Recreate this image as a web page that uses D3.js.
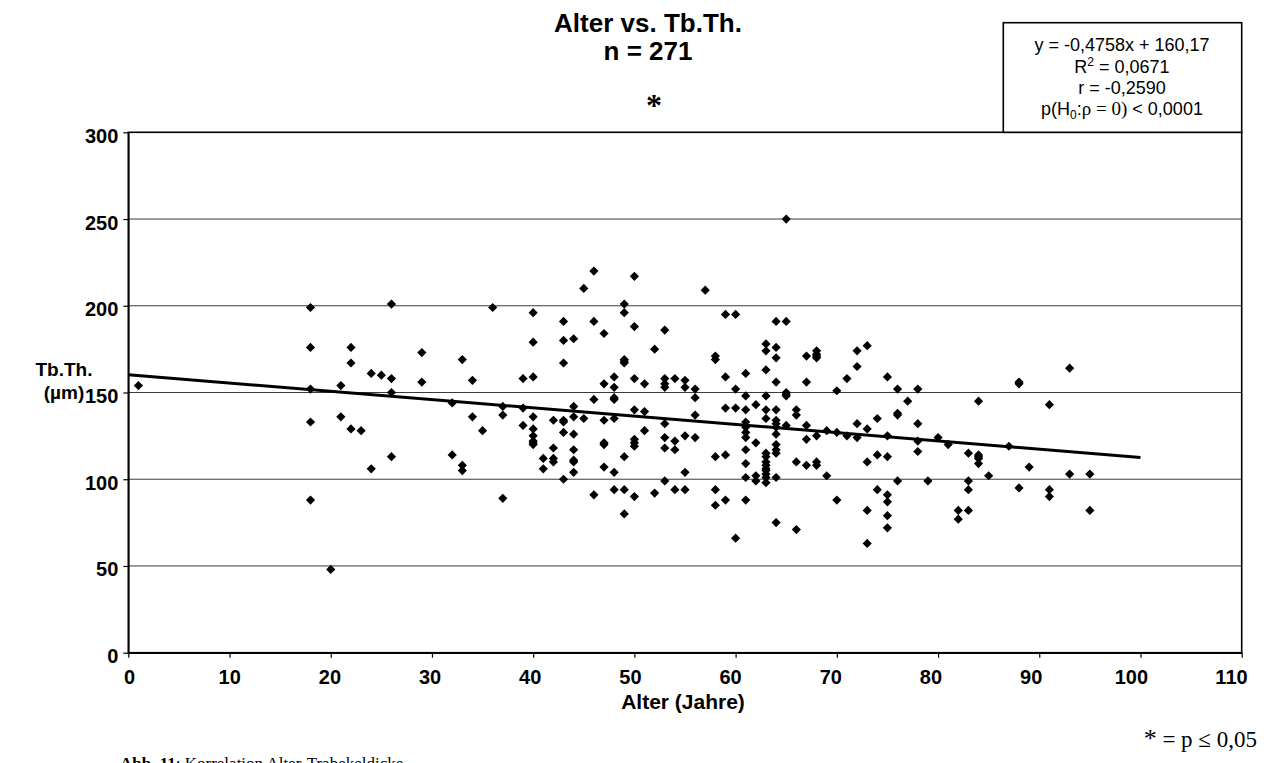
<!DOCTYPE html>
<html>
<head>
<meta charset="utf-8">
<script src="https://cdn.jsdelivr.net/npm/d3@7"></script>
<style>
  html, body { margin: 0; padding: 0; background: #fff; }
  svg { display: block; }
  .sans { font-family: "Liberation Sans", Arial, sans-serif; }
  .serif { font-family: "Liberation Serif", "Times New Roman", serif; }
</style>
</head>
<body>
<svg id="chart" width="1264" height="763"></svg>
<script>
// Age (years) of each sample group and the trabecular thickness values (µm) measured at that age
const ages = [1, 18, 20, 21, 22, 23, 24, 25, 26, 29, 32, 33, 34, 35, 36, 37, 39, 40, 41, 42,
  43, 44, 45, 46, 47, 48, 49, 50, 51, 52, 53, 54, 55, 56, 57, 58, 59, 60, 61, 62,
  63, 64, 65, 66, 67, 68, 69, 70, 71, 72, 73, 74, 75, 76, 77, 78, 79, 80, 81, 82,
  83, 84, 85, 87, 88, 89, 91, 93, 95];
const thickness = [
  [154],
  [199, 176, 152, 133, 88],
  [48],
  [154, 136],
  [176, 167, 129],
  [128],
  [161, 106],
  [160],
  [201, 158, 150, 113],
  [173, 156],
  [144, 114],
  [169, 108, 105],
  [157, 136],
  [128],
  [199],
  [142, 137, 89],
  [158, 141, 131],
  [196, 179, 159, 136, 129, 125, 122, 121, 120],
  [112, 106],
  [134, 118, 112, 110],
  [191, 180, 167, 134, 133, 127, 100],
  [181, 142, 136, 126, 117, 111, 110, 104],
  [210, 135],
  [220, 191, 146, 91],
  [184, 155, 134, 121, 120, 107],
  [159, 153, 147, 146, 135, 104, 94],
  [201, 196, 169, 168, 167, 113, 94, 80],
  [217, 188, 158, 140, 123, 121, 119, 90],
  [155, 139, 128],
  [175, 92],
  [186, 158, 155, 153, 132, 124, 118, 99],
  [158, 122, 117, 94],
  [157, 153, 125, 104, 94],
  [152, 147, 137, 124],
  [209],
  [171, 169, 113, 94, 85],
  [195, 159, 141, 114, 88],
  [195, 152, 141, 66],
  [161, 148, 140, 133, 130, 127, 124, 117, 109, 101, 88],
  [143, 121, 102, 99],
  [178, 174, 163, 148, 140, 135, 115, 113, 110, 108, 106, 105, 103, 101, 98],
  [191, 176, 170, 156, 140, 134, 132, 130, 126, 120, 117, 115, 101, 75],
  [250, 191, 150, 149, 148, 131],
  [140, 137, 110, 71],
  [171, 156, 131, 123, 108],
  [174, 172, 171, 170, 125, 110, 108],
  [128, 102],
  [151, 127, 88],
  [158, 125],
  [174, 165, 132, 124],
  [177, 129, 110, 82, 63],
  [135, 114, 94],
  [159, 125, 113, 91, 87, 79, 72],
  [152, 138, 137, 99],
  [145],
  [152, 132, 122, 116],
  [99],
  [124],
  [120],
  [82, 77],
  [115, 99, 94, 82],
  [145, 114, 113, 112, 109],
  [102],
  [119],
  [156, 155, 95],
  [107],
  [143, 94, 90],
  [164, 103],
  [103, 82]
];

// Linear regression reported for the sample
const slope = -0.4758;
const intercept = 160.17;
const trendRange = [0, 100];

const xTicks = [0, 10, 20, 30, 40, 50, 60, 70, 80, 90, 100, 110];
const yTicks = [0, 50, 100, 150, 200, 250, 300];

const titleLines = ["Alter vs. Tb.Th.", "n = 271"];
const statsLines = ["y = -0,4758x + 160,17", "R2", "r = -0,2590", "p"];

const points = ages.flatMap((a, i) => thickness[i].map(v => ({ age: a, tbth: v })));

const svg = d3.select("#chart");

const plot = { left: 128.3, right: 1241.7, top: 132.3, bottom: 652.7 };
const x = d3.scaleLinear().domain([0, 110]).range([plot.left, plot.right]);
const y = d3.scaleLinear().domain([0, 300]).range([plot.bottom, plot.top]);
// tick labels run on a slightly tighter spacing than the tick marks
const xLabel = d3.scaleLinear().domain([0, 110]).range([129, 1231]);

// horizontal gridlines
svg.append("g")
  .selectAll("line")
  .data(yTicks.filter(t => t > 0 && t < 300))
  .join("line")
  .attr("x1", plot.left).attr("x2", plot.right)
  .attr("y1", d => y(d)).attr("y2", d => y(d))
  .attr("stroke", "#3a3a3a").attr("stroke-width", 1);

// plot frame
svg.append("rect")
  .attr("x", plot.left).attr("y", plot.top)
  .attr("width", plot.right - plot.left).attr("height", plot.bottom - plot.top)
  .attr("fill", "none").attr("stroke", "#000").attr("stroke-width", 1.6);

// x axis
const xAxis = svg.append("g")
  .attr("transform", `translate(0,${plot.bottom})`)
  .call(d3.axisBottom(x).tickValues(xTicks).tickSize(5).tickSizeOuter(0).tickPadding(12));
xAxis.select(".domain").attr("stroke", "#000").attr("stroke-width", 1.6);
xAxis.selectAll(".tick line").attr("stroke", "#000").attr("stroke-width", 1.2);
xAxis.selectAll(".tick text")
  .attr("class", "sans")
  .attr("font-size", 20).attr("font-weight", "bold").attr("fill", "#000")
  .attr("dx", d => xLabel(d) - x(d));

// y axis
const yAxis = svg.append("g")
  .attr("transform", `translate(${plot.left},0)`)
  .call(d3.axisLeft(y).tickValues(yTicks).tickSize(5).tickSizeOuter(0).tickPadding(5));
yAxis.select(".domain").attr("stroke", "#000").attr("stroke-width", 1.6);
yAxis.selectAll(".tick line").attr("stroke", "#000").attr("stroke-width", 1.2);
yAxis.selectAll(".tick text")
  .attr("class", "sans")
  .attr("font-size", 20).attr("font-weight", "bold").attr("fill", "#000")
  .attr("dy", "0.5em");

// regression line
svg.append("line")
  .attr("x1", x(trendRange[0])).attr("y1", y(intercept + slope * trendRange[0]))
  .attr("x2", x(trendRange[1])).attr("y2", y(intercept + slope * trendRange[1]))
  .attr("stroke", "#000").attr("stroke-width", 3);

// diamond markers
const r = 4.6;
svg.append("g")
  .selectAll("path")
  .data(points)
  .join("path")
  .attr("d", d => {
    const cx = x(d.age), cy = y(d.tbth);
    return `M${cx},${cy - r}L${cx + r},${cy}L${cx},${cy + r}L${cx - r},${cy}Z`;
  })
  .attr("fill", "#000");

// title
svg.append("g")
  .selectAll("text")
  .data(titleLines)
  .join("text")
  .attr("class", "sans")
  .attr("x", 648).attr("y", (d, i) => 32 + i * 28)
  .attr("text-anchor", "middle")
  .attr("font-size", 26).attr("font-weight", "bold")
  .text(d => d);

svg.append("text")
  .attr("class", "serif")
  .attr("x", 654).attr("y", 116)
  .attr("text-anchor", "middle")
  .attr("font-size", 32).attr("font-weight", "bold")
  .text("*");

// statistics box
svg.append("rect")
  .attr("x", 1003.3).attr("y", 22.7)
  .attr("width", 1241.7 - 1003.3).attr("height", plot.top - 22.7)
  .attr("fill", "#fff").attr("stroke", "#000").attr("stroke-width", 1.6);

const stats = svg.append("g").attr("class", "sans").attr("font-size", 18).attr("text-anchor", "middle");
const sx = 1122;
stats.append("text").attr("x", sx).attr("y", 51).text(statsLines[0]);
const r2 = stats.append("text").attr("x", sx).attr("y", 73);
r2.append("tspan").text("R");
r2.append("tspan").attr("font-size", 12).attr("dy", -7).text("2");
r2.append("tspan").attr("dy", 7).text(" = 0,0671");
stats.append("text").attr("x", sx).attr("y", 94).text(statsLines[2]);
const pl = stats.append("text").attr("x", sx).attr("y", 115);
pl.append("tspan").text("p(H");
pl.append("tspan").attr("font-size", 12).attr("dy", 4).text("0");
pl.append("tspan").attr("dy", -4).text(":");
pl.append("tspan").attr("class", "serif").attr("font-size", 19).text("ρ = 0)");
pl.append("tspan").text(" < 0,0001");

// axis titles
svg.append("text")
  .attr("class", "sans")
  .attr("x", 683).attr("y", 709)
  .attr("text-anchor", "middle")
  .attr("font-size", 21).attr("font-weight", "bold")
  .text("Alter (Jahre)");

const yTitle = svg.append("text")
  .attr("class", "sans")
  .attr("text-anchor", "middle")
  .attr("font-size", 19).attr("font-weight", "bold");
yTitle.append("tspan").attr("x", 64).attr("y", 376).text("Tb.Th.");
yTitle.append("tspan").attr("x", 64).attr("y", 399).text("(µm)");

// significance note
const note = svg.append("text")
  .attr("class", "serif")
  .attr("x", 1257).attr("y", 747)
  .attr("text-anchor", "end")
  .attr("font-size", 23);
note.append("tspan").attr("font-size", 26).text("*");
note.append("tspan").text(" = p ≤ 0,05");

// figure caption
const cap = svg.append("text")
  .attr("class", "serif")
  .attr("x", 120).attr("y", 769)
  .attr("font-size", 17);
cap.append("tspan").attr("font-weight", "bold").text("Abb. 11");
cap.append("tspan").text(": Korrelation Alter-Trabekeldicke");
</script>
</body>
</html>
